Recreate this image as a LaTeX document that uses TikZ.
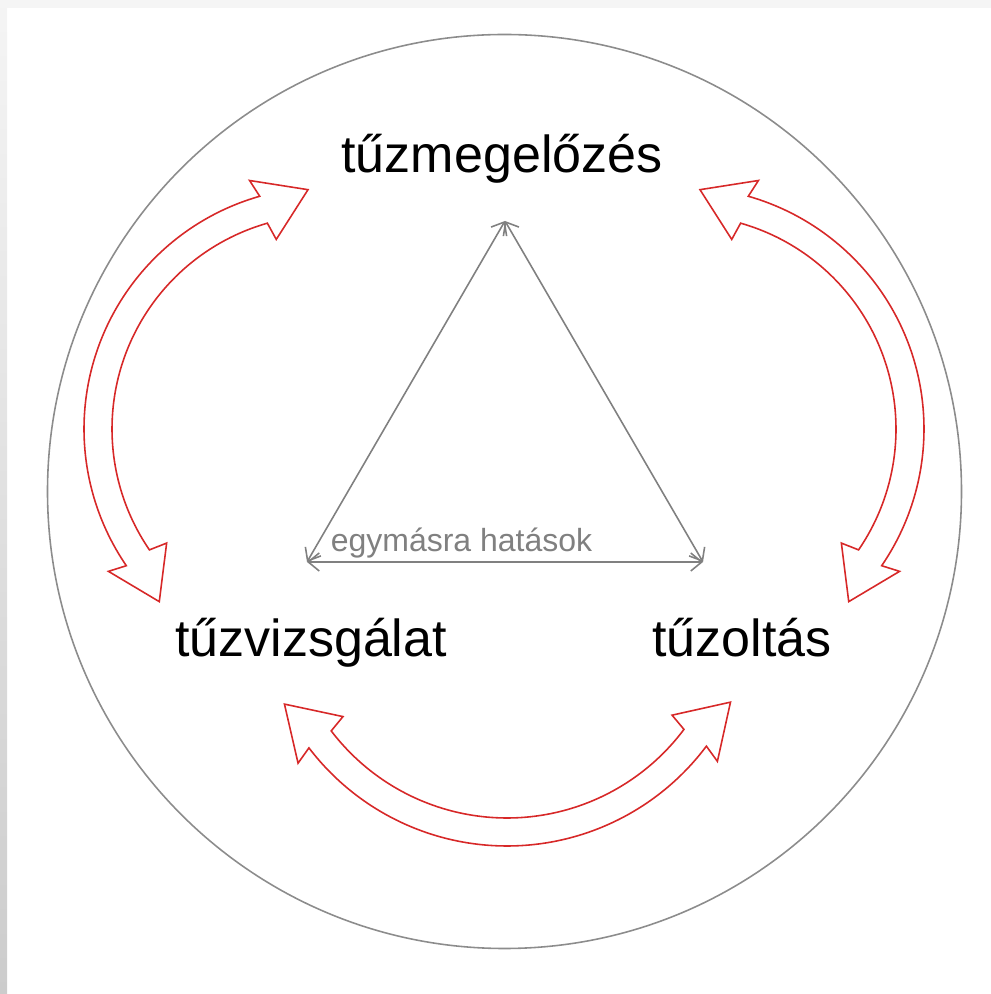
\documentclass[tikz,border=0pt]{standalone}
\usepackage{fontspec}
\setmainfont{Liberation Sans}
\usetikzlibrary{arrows.meta}
\definecolor{circgray}{RGB}{140,140,140}
\definecolor{sidegray}{RGB}{128,128,128}
\definecolor{arrowred}{RGB}{215,40,40}
% hollow double headed arc arrow: {centre}{radius}{start angle}{end angle}
\newcommand{\hollowarc}[4]{%
\draw[redarrow, shift={#1}]
 (#3+11.6:#2+14) arc[start angle=#3+11.6, end angle=#4-11.6, radius=#2+14]
 --(#4-12.8:#2+32)--(#4:#2+12)--(#4-10.4:#2-32)--(#4-11.6:#2-14)
 arc[start angle=#4-11.6, end angle=#3+11.6, radius=#2-14]
 --(#3+10.4:#2-32)--(#3:#2+12)--(#3+12.8:#2+32)--cycle;}
\begin{document}
\begin{tikzpicture}[x=0.01cm, y=0.01cm, >={Straight Barb[length=1.1mm,width=1.8mm]},
 lbl/.style={font=\fontsize{14.8}{18}\selectfont, anchor=base},
 redarrow/.style={draw=arrowred, fill=white, line width=0.45pt},
 side/.style={<->, draw=sidegray, line width=0.45pt}]
\useasboundingbox (0,0) rectangle (991,994);
\shade[top color=gray!8, bottom color=gray!40](0,0) rectangle (7,994);
\fill[gray!8](7,986) rectangle (991,994);
\draw[circgray, line width=0.45pt](504.5,502.5) circle (457);

\hollowarc{(326,565)}{228}{94.3}{226}
\hollowarc{(682,565)}{228}{-46}{85.7}
\hollowarc{(507,397)}{235}{205.7}{334.8}

\coordinate (top) at (505,773);
\coordinate (left) at (307,432);
\coordinate (right) at (703,432);
\draw[side](top)--(left);
\draw[side](top)--(right);
\draw[side](left)--(right);
\node[font=\fontsize{9.1}{11}\selectfont, text=sidegray, anchor=base] (hat) at (461.5,442){egymásra hatások};

\node[lbl] (meg) at (502,821){tűzmegelőzés};
\node[lbl] (viz) at (311,337){tűzvizsgálat};
\node[lbl] (olt) at (742,337){tűzoltás};
\end{tikzpicture}
\end{document}
